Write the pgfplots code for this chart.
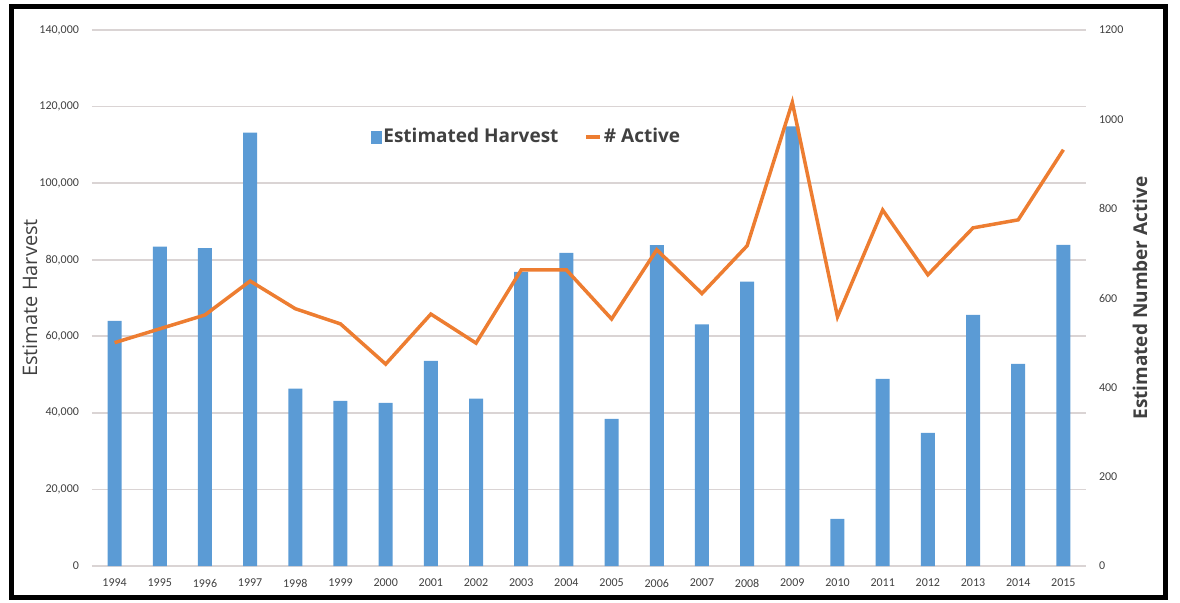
\documentclass[border=0pt]{standalone}
\usepackage{pgfplots}
\usepackage{pgfplotstable}
\pgfplotsset{compat=1.18}
\usepackage{fontspec}
\setmainfont{Open Sans}
\newfontfamily\tickfont{Carlito}
\definecolor{barblue}{HTML}{5B9BD5}
\definecolor{lineorange}{HTML}{ED7D31}
\definecolor{txtgray}{HTML}{404040}
\definecolor{gridgray}{HTML}{DAD4D4}

\pgfplotstableread{
x year harvest active
0 1994 64000 500
1 1995 83400 531
2 1996 83000 562
3 1997 113200 638
4 1998 46300 576
5 1999 43100 542
6 2000 42600 452
7 2001 53600 564
8 2002 43700 499
9 2003 76800 663
10 2004 81800 663
11 2005 38400 553
12 2006 83800 708
13 2007 63100 610
14 2008 74300 717
15 2009 114800 1038
16 2010 12300 558
17 2011 48900 797
18 2012 34800 652
19 2013 65600 757
20 2014 52800 775
21 2015 83900 932
}\datatable

\pgfplotsset{
  commonaxis/.style={
    at={(46pt,18pt)}, anchor=south west,
    scale only axis, width=497pt, height=268pt,
    xmin=-0.5, xmax=21.5,
    major tick length=0pt,
    scaled y ticks=false,
    tick label style={font=\tickfont\fontsize{6}{7}\selectfont, text=txtgray},
  }
}

\begin{document}
\begin{tikzpicture}
\useasboundingbox (0,0) rectangle (590pt,301pt);
\draw[line width=2.5pt, black] (5.5pt,2.2pt) rectangle (582.8pt,298pt);
\begin{axis}[
  commonaxis,
  ymin=0, ymax=140000,
  axis y line*=left, axis x line*=bottom,
  y axis line style={draw=none},
  x axis line style={draw=gridgray, line width=0.8pt},
  xtick={0,...,21},
  xticklabels={1994,1995,1996,1997,1998,1999,2000,2001,2002,2003,2004,2005,2006,2007,2008,2009,2010,2011,2012,2013,2014,2015},
  xticklabel style={yshift=-3pt},
  ytick={0,20000,40000,60000,80000,100000,120000,140000},
  yticklabels={0,{20,000},{40,000},{60,000},{80,000},{100,000},{120,000},{140,000}},
  yticklabel style={xshift=-3pt},
  ymajorgrids, grid style={draw=gridgray, line width=0.8pt},
  ylabel={Estimate Harvest},
  ylabel style={at={(axis description cs:-0.0624,0.5)}, anchor=center, font=\fontsize{10}{12}\selectfont, text=txtgray},
]
\addplot[ybar, bar width=7pt, fill=barblue, draw=none] table[x=x, y=harvest]{\datatable};
\end{axis}
\begin{axis}[
  commonaxis,
  ymin=0, ymax=1200,
  axis y line*=right, axis x line=none,
  y axis line style={draw=none},
  ytick={0,200,400,600,800,1000,1200},
  yticklabels={0,200,400,600,800,1000,1200},
  yticklabel style={xshift=3pt, anchor=west},
  ylabel={Estimated Number Active},
  ylabel style={at={(axis description cs:1.0543,0.5)}, anchor=center, font=\bfseries\fontsize{9.5}{11}\selectfont, text=txtgray},
  legend columns=-1,
  legend style={at={(0.437,0.80)}, anchor=center, draw=none, fill=none,
    font=\bfseries\fontsize{9.5}{11}\selectfont, text=txtgray,
    /tikz/every even column/.append style={column sep=12pt},
    nodes={inner sep=1pt}},
]
\addlegendimage{legend image code/.code={\fill[barblue] (0pt,-3pt) rectangle (5pt,3pt);}}
\addlegendentry{Estimated Harvest}
\addplot[lineorange, line width=1.75pt, mark=none,
  legend image code/.code={\draw[lineorange, line width=1.75pt] (0pt,0pt) -- (7pt,0pt);}]
  table[x=x, y=active]{\datatable};
\addlegendentry{\# Active}
\end{axis}
\end{tikzpicture}
\end{document}
